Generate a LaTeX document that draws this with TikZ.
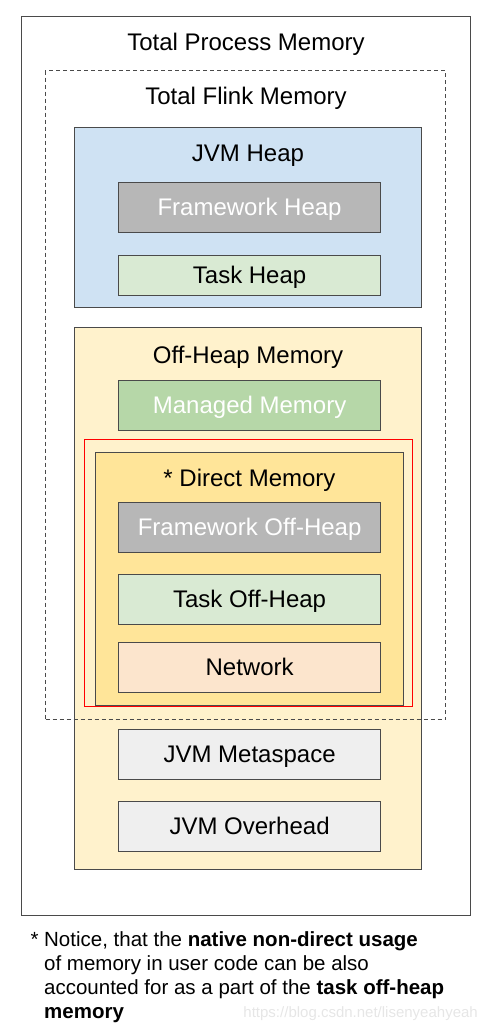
\documentclass[tikz,border=0pt]{standalone}
\usepackage{fontspec}
\setmainfont{Liberation Sans}
\usepackage{xcolor}
\usetikzlibrary{positioning}

\definecolor{edge}{HTML}{4A4A4A}
\definecolor{heapblue}{HTML}{CFE2F3}
\definecolor{fwgray}{HTML}{B7B7B7}
\definecolor{taskgreen}{HTML}{D9EAD3}
\definecolor{mgdgreen}{HTML}{B6D7A8}
\definecolor{offyellow}{HTML}{FFF2CC}
\definecolor{diryellow}{HTML}{FFE599}
\definecolor{netorange}{HTML}{FCE5CD}
\definecolor{jvmgray}{HTML}{EFEFEF}
\definecolor{wmark}{HTML}{E6E6E6}

\tikzset{
  region/.style={draw=edge, line width=1pt, anchor=north west, inner sep=0pt},
  part/.style={draw=edge, line width=1.2pt, anchor=north west, inner sep=0pt,
    minimum width=262pt, minimum height=50pt, text height=18pt, text depth=2pt,
    font=\fontsize{24}{28}\selectfont},
  title/.style={anchor=base, inner sep=0pt, font=\fontsize{24}{28}\selectfont},
}

\begin{document}
\begin{tikzpicture}[x=1pt, y=-1pt]
  \useasboundingbox (0,0) rectangle (486,1029);
  \node[region, minimum width=449pt, minimum height=899pt] (tpm) at (21,16) {};
  \node[title] (tpmlabel) at (246,50) {Total Process Memory};
  \node[title] (tfmlabel) at (246,104) {Total Flink Memory};
  \node[region, fill=heapblue, minimum width=347pt, minimum height=180pt] (heap) at (74,127) {};
  \node[title] (heaplabel) at (heap.north |- 0,161) {JVM Heap};
  \node[part, fill=fwgray, text=white] (fwheap) at (118,182) {Framework Heap};
  \node[part, fill=taskgreen, minimum height=40pt, text height=16pt, text depth=0pt] (taskheap) at (118,255) {Task Heap};
  \node[region, fill=offyellow, minimum width=347pt, minimum height=542pt] (offheap) at (74,327) {};
  \node[title] (offlabel) at (offheap.north |- 0,363) {Off-Heap Memory};
  \node[part, fill=mgdgreen, text=white] (managed) at (118,380) {Managed Memory};
  \node[region, fill=diryellow, minimum width=308pt, minimum height=253pt] (direct) at (95,452) {};
  \node[region, draw=red, minimum width=328pt, minimum height=267pt] (directmark) at (84,439) {};
  \node[title] (directlabel) at (direct.north |- 0,486) {* Direct Memory};
  \node[part, fill=fwgray, text=white] (fwoff) at (118,502) {Framework Off-Heap};
  \node[part, fill=taskgreen] (taskoff) at (118,574) {Task Off-Heap};
  \node[part, fill=netorange] (network) at (118,642) {Network};
  \node[part, fill=jvmgray] (meta) at (118,729) {JVM Metaspace};
  \node[part, fill=jvmgray] (overhead) at (118,801) {JVM Overhead};
  \node[region, dashed, dash pattern=on 4pt off 3pt, minimum width=400pt, minimum height=649pt] (tfm) at (45,70) {};
  \node[anchor=north west, inner sep=0pt, align=left, font=\fontsize{20.5}{24.3}\selectfont] (note) at (44,931)
    {\llap{*\ }Notice, that the \textbf{native non-direct usage}\\
     of memory in user code can be also\\
     accounted for as a part of the \textbf{task off-heap}\\
     \textbf{memory}};
  \node[anchor=base east, inner sep=0pt, text=wmark, font=\fontsize{15}{18}\selectfont] (wm) at (478,1017) {https://blog.csdn.net/lisenyeahyeah};
\end{tikzpicture}
\end{document}
